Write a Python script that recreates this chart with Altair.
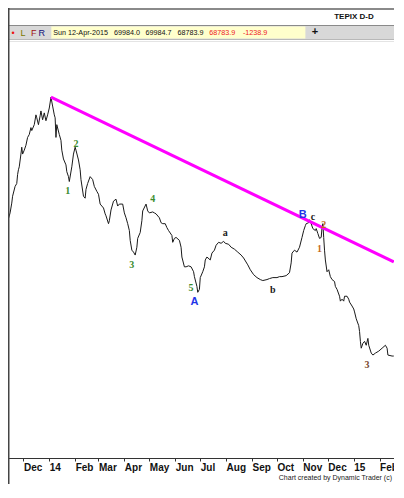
import altair as alt
import pandas as pd

# ---------------- data ----------------
dates = [
    "2013-11-13", "2013-11-15", "2013-11-17", "2013-11-18", "2013-11-21", "2013-11-23",
    "2013-11-24", "2013-11-25", "2013-11-26", "2013-11-28", "2013-11-29", "2013-11-30",
    "2013-12-02", "2013-12-04", "2013-12-06", "2013-12-08", "2013-12-10", "2013-12-11",
    "2013-12-14", "2013-12-16", "2013-12-17", "2013-12-19", "2013-12-21", "2013-12-22",
    "2013-12-24", "2013-12-26", "2013-12-28", "2013-12-30", "2014-01-01", "2014-01-03",
    "2014-01-05", "2014-01-07", "2014-01-08", "2014-01-09", "2014-01-10", "2014-01-13",
    "2014-01-15", "2014-01-16", "2014-01-18", "2014-01-21", "2014-01-22", "2014-01-24",
    "2014-01-25", "2014-01-28", "2014-01-30", "2014-02-01", "2014-02-02", "2014-02-05",
    "2014-02-07", "2014-02-08", "2014-02-11", "2014-02-13", "2014-02-14", "2014-02-16",
    "2014-02-19", "2014-02-22", "2014-02-24", "2014-02-27", "2014-03-01", "2014-03-03",
    "2014-03-07", "2014-03-09", "2014-03-10", "2014-03-13", "2014-03-14", "2014-03-16",
    "2014-03-19", "2014-03-22", "2014-03-24", "2014-03-26", "2014-03-30", "2014-04-01",
    "2014-04-03", "2014-04-05", "2014-04-07", "2014-04-08", "2014-04-10", "2014-04-12",
    "2014-04-14", "2014-04-16", "2014-04-17", "2014-04-20", "2014-04-22", "2014-04-23",
    "2014-04-27", "2014-04-29", "2014-05-01", "2014-05-05", "2014-05-07", "2014-05-09",
    "2014-05-13", "2014-05-15", "2014-05-17", "2014-05-20", "2014-05-22", "2014-05-24",
    "2014-05-28", "2014-05-29", "2014-05-31", "2014-06-02", "2014-06-06", "2014-06-08",
    "2014-06-09", "2014-06-12", "2014-06-14", "2014-06-17", "2014-06-20", "2014-06-23",
    "2014-06-24", "2014-06-27", "2014-06-28", "2014-06-30", "2014-07-01", "2014-07-04",
    "2014-07-06", "2014-07-07", "2014-07-09", "2014-07-13", "2014-07-15", "2014-07-18",
    "2014-07-20", "2014-07-23", "2014-07-26", "2014-07-29", "2014-07-31", "2014-08-04",
    "2014-08-07", "2014-08-11", "2014-08-15", "2014-08-19", "2014-08-22", "2014-08-27",
    "2014-08-30", "2014-09-03", "2014-09-07", "2014-09-11", "2014-09-14", "2014-09-19",
    "2014-09-22", "2014-09-26", "2014-10-01", "2014-10-04", "2014-10-07", "2014-10-12",
    "2014-10-16", "2014-10-18", "2014-10-19", "2014-10-22", "2014-10-25", "2014-10-28",
    "2014-10-31", "2014-11-02", "2014-11-04", "2014-11-05", "2014-11-08", "2014-11-09",
    "2014-11-10", "2014-11-11", "2014-11-13", "2014-11-16", "2014-11-17", "2014-11-19",
    "2014-11-21", "2014-11-23", "2014-11-24", "2014-11-25", "2014-11-26", "2014-11-27",
    "2014-11-28", "2014-11-30", "2014-12-02", "2014-12-04", "2014-12-06", "2014-12-09",
    "2014-12-10", "2014-12-12", "2014-12-15", "2014-12-16", "2014-12-18", "2014-12-20",
    "2014-12-21", "2014-12-24", "2014-12-26", "2014-12-27", "2014-12-30", "2015-01-01",
    "2015-01-02", "2015-01-04", "2015-01-07", "2015-01-08", "2015-01-09", "2015-01-10",
    "2015-01-12", "2015-01-14", "2015-01-16", "2015-01-18", "2015-01-19", "2015-01-22",
    "2015-01-24", "2015-01-27", "2015-01-31", "2015-02-04", "2015-02-08", "2015-02-10",
    "2015-02-11", "2015-02-16", "2015-02-18",
]
closes = [
    76480, 77110, 78160, 78895, 79945, 80260,
    81205, 81730, 82045, 83410, 84145, 83410,
    83830, 84355, 85195, 85510, 86245, 85930,
    86560, 87610, 87295, 86560, 87505, 88030,
    87085, 87820, 86980, 87610, 88345, 89500,
    88555, 87610, 87295, 85195, 86560, 85510,
    84880, 83830, 82885, 82255, 81520, 80995,
    80470, 82045, 83410, 84145, 83830, 82780,
    81730, 80680, 78895, 78685, 79630, 80260,
    80995, 80680, 79945, 79420, 79105, 78055,
    77635, 77005, 76795, 75955, 76270, 77425,
    78370, 78580, 77845, 78055, 78055, 77110,
    76585, 75955, 75220, 74170, 73120, 72910,
    72595, 73435, 74380, 75010, 76270, 77320,
    78055, 77320, 77110, 77215, 77110, 77005,
    76585, 76060, 75955, 75955, 75535, 75220,
    74695, 73960, 74380, 74485, 74170, 73435,
    72385, 71335, 71335, 71440, 71335, 70810,
    70285, 69235, 68605, 68920, 70180, 70810,
    71335, 72070, 72385, 72070, 72805, 73120,
    73645, 73960, 73855, 74065, 73855, 73750,
    73435, 73225, 72910, 72595, 72280, 71545,
    71020, 70495, 70180, 69970, 69865, 69970,
    70075, 70180, 70180, 70285, 70285, 70390,
    70705, 71755, 72805, 73120, 72910, 73435,
    74485, 75220, 75745, 75955, 76060, 76375,
    76165, 75955, 75430, 75220, 75430, 74905,
    74380, 74485, 75535, 75955, 74485, 73120,
    72070, 70810, 71020, 70285, 69970, 69760,
    69235, 68920, 68185, 67660, 67870, 67660,
    68185, 68185, 67870, 67555, 67135, 66820,
    66505, 65770, 65035, 64405, 63355, 62620,
    63145, 63355, 62935, 63670, 62935, 62095,
    61885, 62095, 62305, 62620, 62935, 62620,
    61885, 61780, 61780,
]

# Elliott wave labels
label_texts = ["1", "2", "3", "4", "5", "A", "a", "b", "B", "c", "1", "2", "3"]
label_dates = ["2014-01-23", "2014-02-02", "2014-04-10", "2014-05-05", "2014-06-20",
               "2014-06-24", "2014-07-31", "2014-09-26", "2014-11-01", "2014-11-13",
               "2014-11-21", "2014-11-26", "2015-01-17"]
label_prices = [79420, 84460, 71545, 78580, 69025, 67555, 74905, 68815, 76900,
                76690, 73225, 75850, 60835]
label_degree = ["minor", "minor", "minor", "minor", "minor", "intermediate", "minute",
                "minute", "intermediate", "minute", "new", "new", "new3"]

# trend line (drawn from the Dec-2013 top)
trend_dates = ["2014-01-03", "2015-02-18"]
trend_prices = [89500, 71860]

# header quote
quote_texts = ["Sun 12-Apr-2015", "69984.0", "69984.7", "68783.9", "68783.9", "-1238.9"]
month_ticks = ["2013-12-01"] + ["2014-%02d-01" % m for m in range(1, 13)] + ["2015-01-01", "2015-02-01"]
x_domain = ["2013-11-12 12:00", "2015-02-18 07:00"]


def ms(s):
    return int(pd.Timestamp(s, tz="UTC").value // 1_000_000)


# ---------------- chart ----------------
W, H = 386, 450
SANS = "Liberation Sans, Arial, sans-serif"

price_df = pd.DataFrame({"date": dates, "close": closes})
label_df = pd.DataFrame({"date": label_dates, "price": label_prices,
                         "txt": label_texts, "degree": label_degree})
trend_df = pd.DataFrame({"date": trend_dates, "price": trend_prices})

xscale = alt.Scale(type="utc", domain=[ms(d) for d in x_domain])
yscale = alt.Scale(domain=[50860, 99055], zero=False, nice=False)

xaxis = alt.Axis(
    title="",
    values=[ms(d) for d in month_ticks],
    labelExpr="utcmonth(datum.value) == 0 ? utcFormat(datum.value, '%y') : utcFormat(datum.value, '%b')",
    labelAlign="left", labelOffset=0, labelPadding=1, tickSize=3,
    labelFont=SANS, labelFontSize=10, labelFontWeight="bold", labelColor="#111111",
    domainColor="#333333", tickColor="#333333", grid=False, labelOverlap=False,
    labelFlush=False,
)

X = lambda f: alt.X(f, scale=xscale, axis=xaxis)

price = alt.Chart(price_df).mark_line(color="#1a1a1a", strokeWidth=1).encode(
    x=X("date:T"),
    y=alt.Y("close:Q", scale=yscale, axis=None),
)

trend = alt.Chart(trend_df).mark_line(color="#ff00ff", strokeWidth=3).encode(
    x=X("date:T"),
    y=alt.Y("price:Q", scale=yscale, axis=None),
)

labels_serif = alt.Chart(label_df).transform_filter(
    "datum.degree != 'intermediate'"
).mark_text(font="Liberation Serif, DejaVu Serif, serif", fontSize=10, fontWeight="bold").encode(
    x=X("date:T"),
    y=alt.Y("price:Q", scale=yscale, axis=None),
    text="txt:N",
    color=alt.Color("degree:N", legend=None,
                    scale=alt.Scale(domain=["minor", "minute", "new", "new3"],
                                    range=["#3a8c2e", "#202020", "#c46a1c", "#7a4a30"])),
)
labels_sans = alt.Chart(label_df).transform_filter(
    "datum.degree == 'intermediate'"
).mark_text(font=SANS, fontSize=11, fontWeight="bold", color="#1f35e8").encode(
    x=X("date:T"),
    y=alt.Y("price:Q", scale=yscale, axis=None),
    text="txt:N",
)

one = pd.DataFrame({"k": [0]})


def rule(x1, x2, y1, y2, color, w):
    return alt.Chart(one).mark_rule(color=color, strokeWidth=w).encode(
        x=alt.value(x1), x2=alt.value(x2), y=alt.value(y1), y2=alt.value(y2))


def rect(x1, x2, y1, y2, fill):
    return alt.Chart(one).mark_rect(color=fill).encode(
        x=alt.value(x1), x2=alt.value(x2), y=alt.value(y1), y2=alt.value(y2))


def text(t, x, y, color="#111111", size=8, weight="normal", font=SANS, align="left"):
    return alt.Chart(one).mark_text(text=t, color=color, fontSize=size, fontWeight=weight,
                                    font=font, align=align, baseline="middle").encode(
        x=alt.value(x), y=alt.value(y))


quote_x = [45.2, 105.9, 137.6, 169.4, 201.2, 234.9]
quote_c = ["#111111", "#111111", "#111111", "#111111", "#ee2020", "#ee2020"]

header = [
    rule(0, W, 1, 1, "#8a8a8a", 2),
    text("TEPIX D-D", 346, 9, size=8, weight="bold", align="center"),
    rect(0, W, 17.5, 31.5, "#d8d8d8"),
    rule(0, W, 17.5, 17.5, "#8a8a8a", 1),
    rule(0, W, 31.5, 31.5, "#b8b8b8", 1),
    rule(0, W, 33.5, 33.5, "#e4e4e4", 1),
    rect(43.3, 297.4, 18.5, 30.5, "#ffffcc"),
    text("\u2022", 5, 24.5, color="#ee1111", size=9, align="center"),
    text("L", 12.5, 24.5, color="#7a7a00", size=9),
    text("F", 23, 24.5, color="#a01010", size=9),
    text("R", 30.5, 24.5, color="#10107a", size=9),
    text("+", 307, 24, color="#111111", size=11, weight="bold", align="center"),
]
for t, x, c in zip(quote_texts, quote_x, quote_c):
    header.append(text(t, x, 24.5, color=c, size=7.2))

frame = [
    rule(0.75, 0.75, 0, 476, "#444444", 1.5),
    text("Chart created by Dynamic Trader  (c)", W - 2, 470, color="#222222", size=7, align="right"),
]

chart = alt.layer(
    price, trend, labels_serif, labels_sans, *header, *frame
).properties(
    width=W, height=H,
    autosize=alt.AutoSizeParams(type="none"),
    padding={"left": 0, "top": 0, "right": 0, "bottom": 26},
    background="#ffffff",
).configure_view(strokeWidth=0)

chart.save("out.html", embed_options={"renderer": "svg", "actions": False})
